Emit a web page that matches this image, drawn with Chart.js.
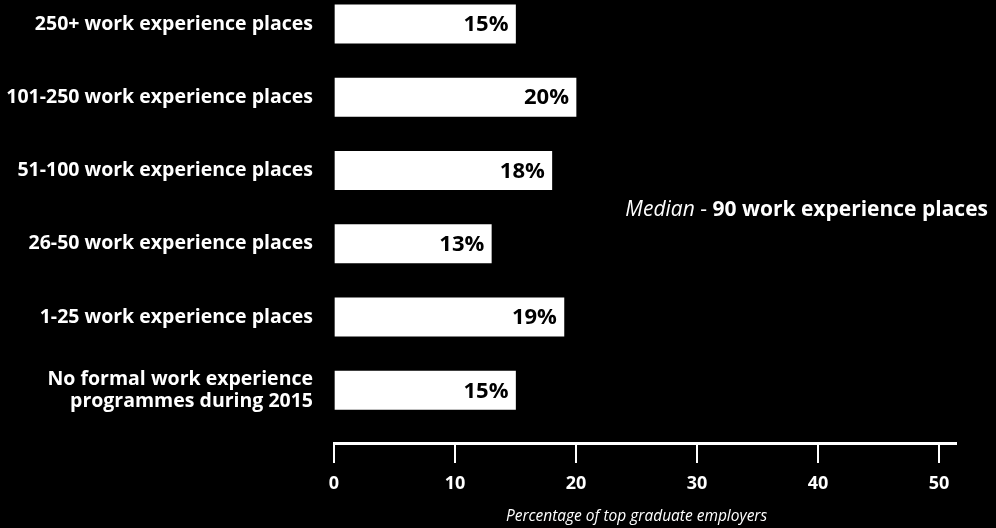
<!DOCTYPE html>
<html>
<head>
<meta charset="utf-8">
<script src="https://cdn.jsdelivr.net/npm/chart.js@4.4.1/dist/chart.umd.min.js"></script>
<style>
  html, body { margin: 0; padding: 0; background: #000; }
  #wrap { width: 996px; height: 528px; position: relative; }
</style>
</head>
<body>
<div id="wrap"><canvas id="c" width="996" height="528"></canvas></div>
<script>
// Work experience places offered by top graduate employers, 2015
const categories = [
  '250+ work experience places',
  '101-250 work experience places',
  '51-100 work experience places',
  '26-50 work experience places',
  '1-25 work experience places',
  ['No formal work experience', 'programmes during 2015']
];
const shares = [15, 20, 18, 13, 19, 15];   // % of top graduate employers
const xTicks = [0, 10, 20, 30, 40, 50];
const axisTitle = 'Percentage of top graduate employers';
const medianNote = { lead: 'Median', sep: ' - ', value: '90 work experience places' };

const FONT = '"Open Sans", "DejaVu Sans", sans-serif';
Chart.defaults.color = '#fff';
Chart.defaults.font.family = FONT;

// Value labels inside the bars, the median note and the axis title
const annotate = {
  id: 'annotate',
  afterDatasetsDraw(chart) {
    const ctx = chart.ctx;
    const meta = chart.getDatasetMeta(0);
    ctx.save();
    ctx.fillStyle = '#000';
    ctx.font = 'bold 22px ' + FONT;
    ctx.textAlign = 'right';
    ctx.textBaseline = 'middle';
    meta.data.forEach((bar, i) => {
      ctx.fillText(shares[i] + '%', bar.x - 7, bar.y + 1);
    });

    // median note, right aligned
    ctx.fillStyle = '#fff';
    ctx.textAlign = 'left';
    const fLead = 'italic 21px ' + FONT;
    const fSep = '21px ' + FONT;
    const fVal = 'bold 21px ' + FONT;
    ctx.font = fLead; const w1 = ctx.measureText(medianNote.lead).width;
    ctx.font = fSep;  const w2 = ctx.measureText(medianNote.sep).width;
    ctx.font = fVal;  const w3 = ctx.measureText(medianNote.value).width;
    let x = 988 - (w1 + w2 + w3);
    const y = 210;
    ctx.font = fLead; ctx.fillText(medianNote.lead, x, y); x += w1;
    ctx.font = fSep;  ctx.fillText(medianNote.sep, x, y); x += w2;
    ctx.font = fVal;  ctx.fillText(medianNote.value, x, y);

    // x axis title, centred on the 0-50 range
    const xs = chart.scales.x;
    ctx.font = 'italic 15.5px ' + FONT;
    ctx.textAlign = 'center';
    ctx.fillText(axisTitle, (xs.getPixelForValue(0) + xs.getPixelForValue(50)) / 2, 517);
    ctx.restore();
  }
};

new Chart(document.getElementById('c'), {
  type: 'bar',
  data: {
    datasets: [{
      data: shares.map((v, i) => ({ x: v, y: i })),
      backgroundColor: '#fff',
      borderWidth: 0,
      barThickness: 38.5
    }]
  },
  options: {
    indexAxis: 'y',
    responsive: false,
    animation: false,
    events: [],
    layout: { padding: { top: 0, right: 40, bottom: 0, left: 0 } },
    plugins: { legend: { display: false }, tooltip: { enabled: false } },
    scales: {
      y: {
        type: 'linear',
        reverse: true,
        offset: false,
        bounds: 'data',
        min: -0.327,
        max: 5.72,
        grid: { display: false, drawTicks: false },
        border: { display: false },
        afterBuildTicks: (s) => { s.ticks = categories.map((_, i) => ({ value: i })); },
        afterFit: (s) => {
          s.width = 334;
          s.paddingTop = 0;
          s.paddingBottom = 0;
        },
        ticks: {
          autoSkip: false,
          padding: 21,
          color: '#fff',
          font: { size: 19.5, weight: 'bold', lineHeight: 1.1 },
          callback: (v) => categories[v]
        }
      },
      x: {
        type: 'linear',
        position: 'bottom',
        bounds: 'data',
        min: 0,
        max: 51.4,
        grid: {
          drawOnChartArea: false,
          drawTicks: true,
          tickLength: 20,
          color: '#fff',
          lineWidth: 2
        },
        border: { display: true, color: '#fff', width: 3 },
        afterBuildTicks: (s) => { s.ticks = xTicks.map(v => ({ value: v })); },
        afterFit: (s) => { s.height = 85; },
        ticks: {
          padding: 10,
          maxRotation: 0,
          color: '#fff',
          font: { size: 18, weight: 'bold' }
        }
      }
    }
  },
  plugins: [annotate]
});
</script>
</body>
</html>
